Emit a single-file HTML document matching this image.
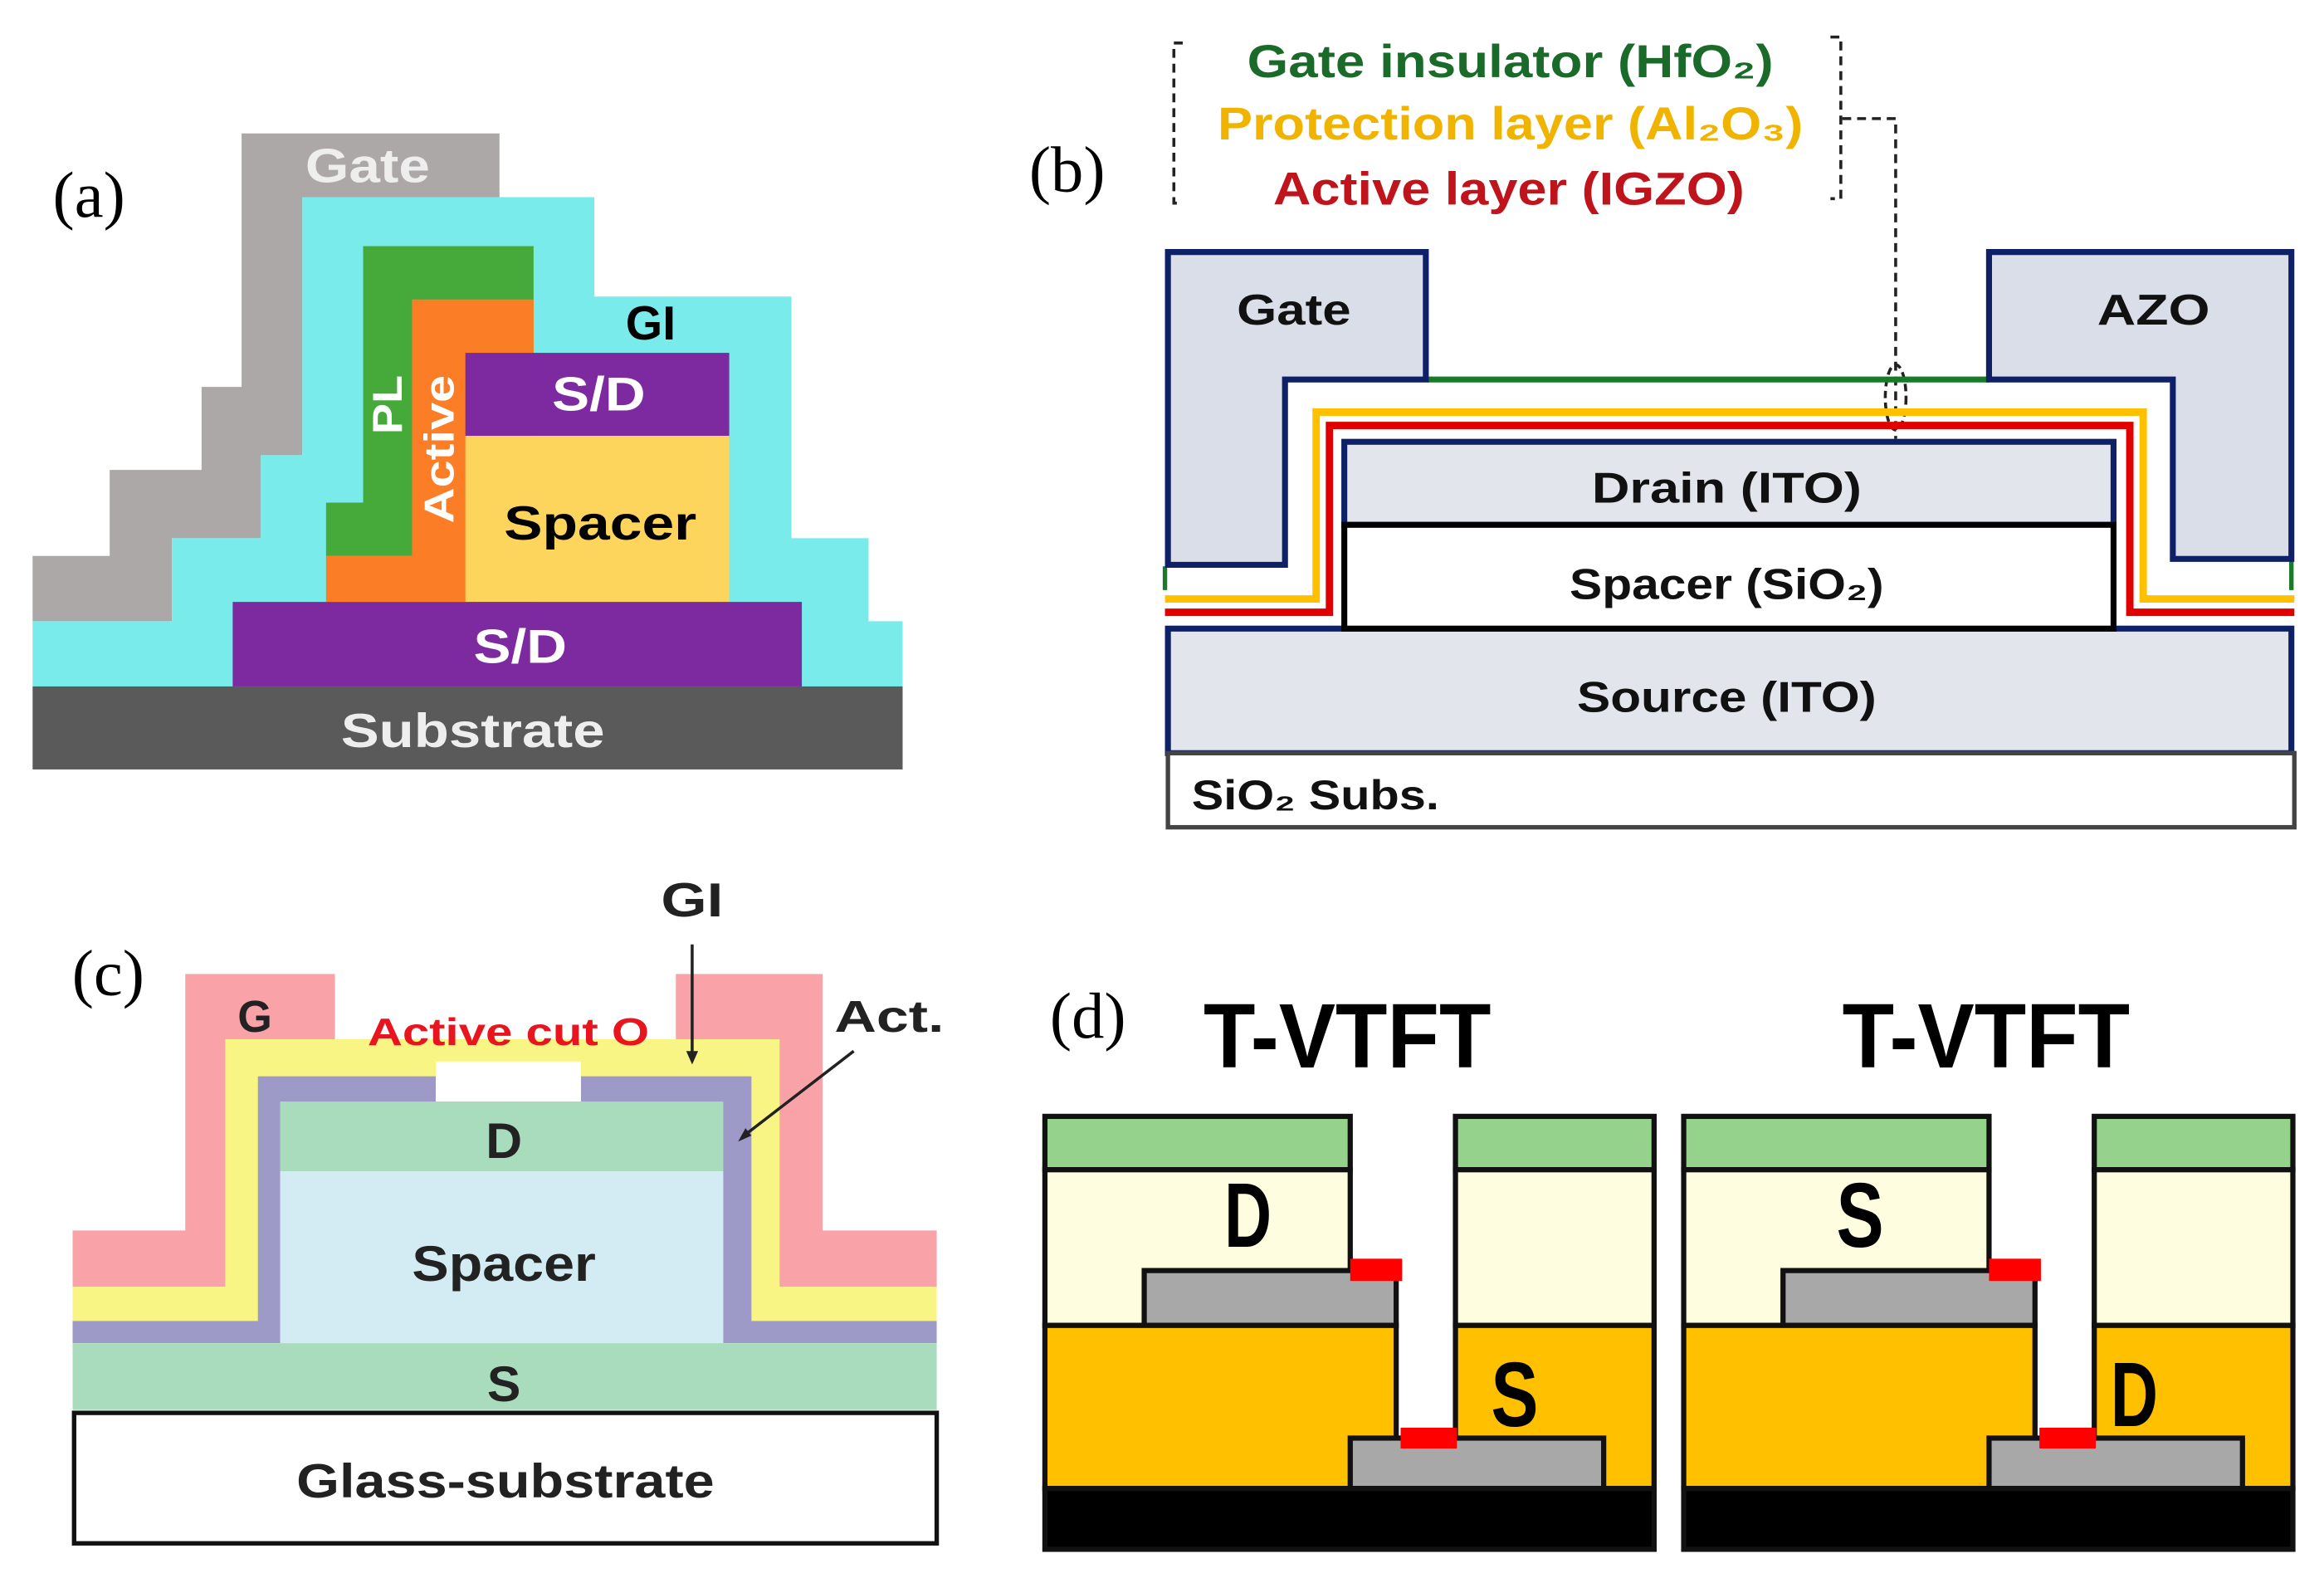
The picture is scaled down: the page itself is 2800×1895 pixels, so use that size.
<!DOCTYPE html>
<html><head><meta charset="utf-8"><style>
html,body{margin:0;padding:0;background:#fff;}
svg{display:block;}
text{font-family:"Liberation Sans",sans-serif;font-weight:bold;}
.serif{font-family:"Liberation Serif",serif;font-weight:normal;}
</style></head><body>
<svg width="2800" height="1895" viewBox="0 0 1568 1061" preserveAspectRatio="none" xmlns="http://www.w3.org/2000/svg">
<rect width="1568" height="1061" fill="#fff"/>

<!-- (a) -->
<text class="serif" x="60" y="146" font-size="44" text-anchor="middle">(a)</text>
<polygon fill="#ada8a8" points="163,90 337,90 337,133 204,133 204,307 176,307 176,363 116,363 116,419 22,419 22,375 74,375 74,317 136,317 136,261 163,261"/>
<polygon fill="#79ebea" points="204,133 401,133 401,200 534,200 534,363 586,363 586,419 609,419 609,463 22,463 22,419 116,419 116,363 176,363 176,307 204,307"/>
<polygon fill="#45aa3a" points="245,166 360,166 360,375 220,375 220,339 245,339"/>
<polygon fill="#fb7d25" points="278,202 360,202 360,406 220,406 220,375 278,375"/>
<rect x="314" y="238" width="178" height="56" fill="#7d2aa0"/>
<rect x="314" y="294" width="178" height="112" fill="#fed55c"/>
<rect x="157" y="406" width="384" height="57" fill="#7d2aa0"/>
<rect x="22" y="463" width="587" height="56" fill="#5a5a5a"/>
<text x="248" y="123" font-size="32" fill="#eeeeee" text-anchor="middle" textLength="84" lengthAdjust="spacingAndGlyphs">Gate</text>
<text x="439" y="229" font-size="32" fill="#000" text-anchor="middle">GI</text>
<text x="404" y="277" font-size="32" fill="#fff" text-anchor="middle" textLength="63" lengthAdjust="spacingAndGlyphs">S/D</text>
<text x="405" y="364" font-size="32" fill="#000" text-anchor="middle" textLength="130" lengthAdjust="spacingAndGlyphs">Spacer</text>
<text x="351" y="447" font-size="32" fill="#fff" text-anchor="middle" textLength="63" lengthAdjust="spacingAndGlyphs">S/D</text>
<text x="319" y="504" font-size="32" fill="#eeeeee" text-anchor="middle" textLength="178" lengthAdjust="spacingAndGlyphs">Substrate</text>
<text transform="translate(271,273) rotate(-90)" font-size="28" fill="#fff" text-anchor="middle" textLength="40" lengthAdjust="spacingAndGlyphs">PL</text>
<text transform="translate(306,303) rotate(-90)" font-size="28" fill="#fff" text-anchor="middle" textLength="100" lengthAdjust="spacingAndGlyphs">Active</text>

<!-- (b) -->
<text class="serif" x="720" y="129" font-size="44" text-anchor="middle">(b)</text>
<path d="M798,29 H792 V137 H798" fill="none" stroke="#222" stroke-width="2" stroke-dasharray="6,4"/>
<path d="M1235,25 H1242 V134 H1235" fill="none" stroke="#222" stroke-width="2" stroke-dasharray="6,4"/>
<path d="M1243,80 H1279 V296" fill="none" stroke="#222" stroke-width="2" stroke-dasharray="6,4"/>
<ellipse cx="1279" cy="268" rx="7" ry="22" fill="none" stroke="#222" stroke-width="2" stroke-dasharray="5,3"/>
<text x="1019" y="52" font-size="31" fill="#1a6b2a" text-anchor="middle" textLength="355" lengthAdjust="spacingAndGlyphs">Gate insulator (HfO₂)</text>
<text x="1019" y="94" font-size="31" fill="#f0b400" text-anchor="middle" textLength="395" lengthAdjust="spacingAndGlyphs">Protection layer (Al₂O₃)</text>
<text x="1018" y="138" font-size="31" fill="#c0141c" text-anchor="middle" textLength="318" lengthAdjust="spacingAndGlyphs">Active layer (IGZO)</text>

<path d="M786,382 V398 M1546,377 V398" stroke="#1a7a2a" stroke-width="3"/>
<path d="M963,256 H1342" stroke="#1a7a2a" stroke-width="4"/>
<path d="M786,404 H888 V278 H1446 V404 H1548" fill="none" stroke="#ffc000" stroke-width="5"/>
<path d="M786,413 H897 V287 H1437 V413 H1548" fill="none" stroke="#e00000" stroke-width="5"/>
<polygon fill="#dadee8" stroke="#0f2166" stroke-width="4" points="788,170 962,170 962,256 867,256 867,381 788,381"/>
<polygon fill="#dadee8" stroke="#0f2166" stroke-width="4" points="1342,170 1546,170 1546,377 1466,377 1466,256 1342,256"/>
<rect x="788" y="424" width="758" height="84" fill="#e3e5ec" stroke="#0f2166" stroke-width="4"/>
<rect x="907" y="298" width="519" height="56" fill="#e3e5ec" stroke="#0f2166" stroke-width="4"/>
<rect x="907" y="354" width="519" height="70" fill="#fff" stroke="#000" stroke-width="4"/>
<rect x="788" y="508" width="760" height="50" fill="#fff" stroke="#444" stroke-width="3"/>
<text x="873" y="219" font-size="29" fill="#111" text-anchor="middle" textLength="77" lengthAdjust="spacingAndGlyphs">Gate</text>
<text x="1453" y="219" font-size="29" fill="#111" text-anchor="middle" textLength="76" lengthAdjust="spacingAndGlyphs">AZO</text>
<text x="1165" y="339" font-size="29" fill="#111" text-anchor="middle" textLength="182" lengthAdjust="spacingAndGlyphs">Drain (ITO)</text>
<text x="1165" y="404" font-size="29" fill="#111" text-anchor="middle" textLength="212" lengthAdjust="spacingAndGlyphs">Spacer (SiO₂)</text>
<text x="1165" y="480" font-size="29" fill="#111" text-anchor="middle" textLength="202" lengthAdjust="spacingAndGlyphs">Source (ITO)</text>
<text x="804" y="546" font-size="28" fill="#111" textLength="167" lengthAdjust="spacingAndGlyphs">SiO₂ Subs.</text>

<!-- (c) -->
<text class="serif" x="73" y="671" font-size="44" text-anchor="middle">(c)</text>
<polygon fill="#f9a3a8" points="125,657 226,657 226,701 456,701 456,657 555,657 555,830 632,830 632,868 49,868 49,830 125,830"/>
<polygon fill="#f8f585" points="152,701 526,701 526,868 632,868 632,891 49,891 49,868 152,868"/>
<polygon fill="#9e9ac8" points="174,726 507,726 507,891 632,891 632,906 49,906 49,891 174,891"/>
<rect x="294" y="716" width="98" height="27" fill="#fff"/>
<rect x="189" y="743" width="299" height="47" fill="#a9dcbd"/>
<rect x="189" y="790" width="299" height="116" fill="#d3ebf3"/>
<rect x="49" y="906" width="583" height="45" fill="#a9dcbd"/>
<rect x="50" y="953" width="582" height="88" fill="#fff" stroke="#111" stroke-width="3"/>
<text x="172" y="696" font-size="30" fill="#222" text-anchor="middle">G</text>
<text x="343" y="705" font-size="26" fill="#e8151f" text-anchor="middle" textLength="190" lengthAdjust="spacingAndGlyphs">Active cut O</text>
<text x="340" y="781" font-size="34" fill="#222" text-anchor="middle">D</text>
<text x="340" y="864" font-size="34" fill="#222" text-anchor="middle" textLength="124" lengthAdjust="spacingAndGlyphs">Spacer</text>
<text x="340" y="945" font-size="34" fill="#222" text-anchor="middle">S</text>
<text x="341" y="1010" font-size="32" fill="#222" text-anchor="middle" textLength="282" lengthAdjust="spacingAndGlyphs">Glass-substrate</text>
<text x="467" y="618" font-size="32" fill="#222" text-anchor="middle" textLength="42" lengthAdjust="spacingAndGlyphs">GI</text>
<text x="600" y="696" font-size="30" fill="#222" text-anchor="middle" textLength="74" lengthAdjust="spacingAndGlyphs">Act.</text>
<path d="M467,637 V712" stroke="#222" stroke-width="2"/>
<polygon points="463,709 471,709 467,718" fill="#222"/>
<path d="M576,709 L502,766" stroke="#222" stroke-width="2"/>
<polygon points="498,770 503,761 507,766" fill="#222"/>

<!-- (d) -->
<text class="serif" x="734" y="700" font-size="44" text-anchor="middle">(d)</text>
<text x="909" y="720" font-size="62" fill="#000" text-anchor="middle" textLength="194" lengthAdjust="spacingAndGlyphs">T-VTFT</text>
<text x="1340" y="720" font-size="62" fill="#000" text-anchor="middle" textLength="194" lengthAdjust="spacingAndGlyphs">T-VTFT</text>
<g id="dev" stroke="#111" stroke-width="3.5">
<rect x="705" y="753" width="206" height="36" fill="#95d38c"/>
<rect x="982" y="753" width="134" height="36" fill="#95d38c"/>
<rect x="705" y="789" width="206" height="105" fill="#fffde0"/>
<rect x="982" y="789" width="134" height="105" fill="#fffde0"/>
<rect x="772" y="857" width="170" height="37" fill="#a8a8a8"/>
<rect x="705" y="894" width="237" height="110" fill="#ffc000"/>
<rect x="982" y="894" width="134" height="110" fill="#ffc000"/>
<rect x="911" y="970" width="171" height="34" fill="#a8a8a8"/>
<rect x="705" y="1004" width="411" height="41" fill="#000"/>
<rect x="911" y="849" width="35" height="15" fill="#ff0000" stroke="none"/>
<rect x="945" y="963" width="38" height="14" fill="#ff0000" stroke="none"/>
</g>
<use href="#dev" transform="translate(431,0)"/>
<text x="842" y="841" font-size="62" fill="#000" text-anchor="middle" textLength="32" lengthAdjust="spacingAndGlyphs">D</text>
<text x="1022" y="962" font-size="62" fill="#000" text-anchor="middle" textLength="32" lengthAdjust="spacingAndGlyphs">S</text>
<text x="1255" y="841" font-size="62" fill="#000" text-anchor="middle" textLength="32" lengthAdjust="spacingAndGlyphs">S</text>
<text x="1440" y="962" font-size="62" fill="#000" text-anchor="middle" textLength="32" lengthAdjust="spacingAndGlyphs">D</text>
</svg>
</body></html>
